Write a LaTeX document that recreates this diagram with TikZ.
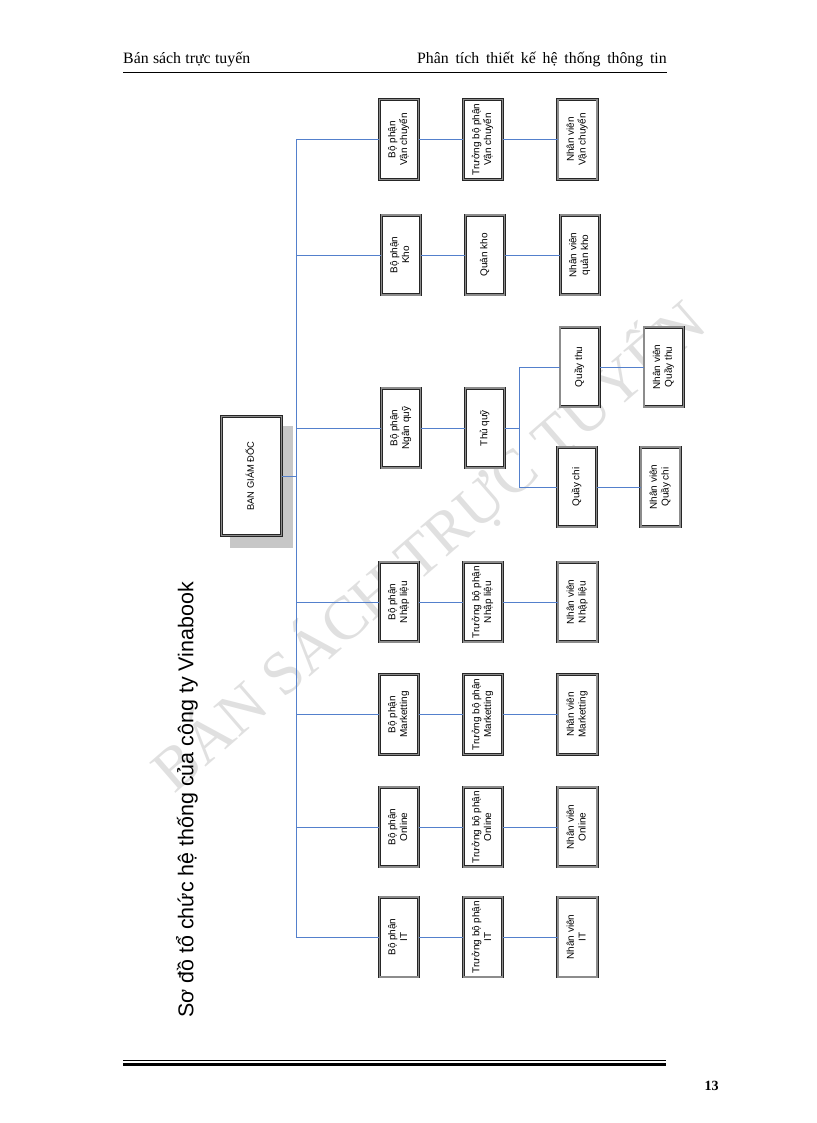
\documentclass[tikz,border=0pt]{standalone}
\usepackage{fontspec}
\setmainfont{Liberation Serif}
\setsansfont{Liberation Sans}
\usepackage{graphicx}

\definecolor{linkblue}{RGB}{84,128,204}
\newcommand{\vlabel}[1]{\rotatebox{90}{\begin{tabular}{@{}c@{}}#1\end{tabular}}}

\tikzset{
  unit/.style={draw=black!85, double=black!45, line width=0.55pt, double distance=1.2pt,
    fill=white, inner sep=0pt, minimum width=11.8mm, minimum height=23.9mm,
    font=\sffamily\fontsize{8.5}{10}\selectfont},
  board/.style={unit, minimum width=18.1mm, minimum height=35.8mm,
    font=\sffamily\fontsize{8}{10}\selectfont},
  link/.style={draw=linkblue, line width=0.8pt},
}

\begin{document}
\begin{tikzpicture}[x=0.3mm, y=-0.3mm]
  \useasboundingbox (0,0) rectangle (816,1123);

  % watermark
  \node[rotate=41, text=black!12, font=\fontsize{52}{52}\selectfont] (mark) at (428,545) {BÁN SÁCH TRỰC TUYẾN};

  % page header
  \node[anchor=base west, inner sep=0, font=\fontsize{13.5}{15}\selectfont] (hleft) at (123,63.3) {\spaceskip=3.7pt Bán sách trực tuyến};
  \node[anchor=base east, inner sep=0, font=\fontsize{13.5}{15}\selectfont] (hright) at (667,63.3) {\spaceskip=5.8pt Phân tích thiết kế hệ thống thông tin};
  \draw[line width=0.6pt] (123,72.3) -- (667,72.3);

  \node[rotate=90, font=\sffamily\fontsize{18.3}{20}\selectfont] (title) at (187,800) {Sơ đồ tổ chức hệ thống của công ty Vinabook};

  % board
  \fill[black!22] (230,426) rectangle (293,548);
  \node[board] (bgd) at (251.5,476) {\vlabel{BAN GIÁM ĐỐC}};
  \coordinate (bus) at (296,476);

  \foreach \name/\y/\dept in {vc/139.5/Vận chuyển, nl/602/Nhập liệu, mk/714.5/Marketting, on/827/Online, it/937/IT} {
    \node[unit] (bp-\name) at (399,\y) {\vlabel{Bộ phận\\\dept}};
    \node[unit] (tb-\name) at (483,\y) {\vlabel{Trưởng bộ phận\\\dept}};
    \node[unit] (nv-\name) at (577.5,\y) {\vlabel{Nhân viên\\\dept}};
    \draw[link] (bp-\name -| bus) -- (bp-\name);
    \draw[link] (bp-\name) -- (tb-\name);
    \draw[link] (tb-\name) -- (nv-\name);
  }

  % kho
  \node[unit] (bp-kh) at (401,255) {\vlabel{Bộ phận\\Kho}};
  \node[unit] (qk) at (485,255) {\vlabel{Quản kho}};
  \node[unit] (nv-kh) at (580,255) {\vlabel{Nhân viên\\quản kho}};
  \draw[link] (bp-kh -| bus) -- (bp-kh);
  \draw[link] (bp-kh) -- (qk);
  \draw[link] (qk) -- (nv-kh);

  % ngan quy
  \node[unit] (bp-nq) at (401,428) {\vlabel{Bộ phận\\Ngân quỹ}};
  \node[unit] (tq) at (485,428) {\vlabel{Thủ quỹ}};
  \node[unit] (qthu) at (579.7,367) {\vlabel{Quầy thu}};
  \node[unit] (nvthu) at (663.7,367) {\vlabel{Nhân viên\\Quầy thu}};
  \node[unit] (qchi) at (577,487) {\vlabel{Quầy chi}};
  \node[unit] (nvchi) at (660.5,487) {\vlabel{Nhân viên\\Quầy chi}};
  \coordinate (fork) at (519.3,428);
  \draw[link] (bp-nq -| bus) -- (bp-nq);
  \draw[link] (bp-nq) -- (tq);
  \draw[link] (tq) -- (fork);
  \draw[link] (fork |- qthu) -- (fork |- qchi);
  \draw[link] (fork |- qthu) -- (qthu);
  \draw[link] (fork |- qchi) -- (qchi);
  \draw[link] (qthu) -- (nvthu);
  \draw[link] (qchi) -- (nvchi);

  \draw[link] (bp-vc -| bus) -- (bp-it -| bus);
  \draw[link] (bgd) -- (bus);

  % page footer
  \draw[line width=0.6pt] (123,1060.7) -- (666,1060.7);
  \draw[line width=2.4pt] (123,1064.3) -- (666,1064.3);
  \node[anchor=base east, inner sep=0, font=\bfseries\fontsize{12}{14}\selectfont] (pageno) at (719,1090) {13};
\end{tikzpicture}
\end{document}
